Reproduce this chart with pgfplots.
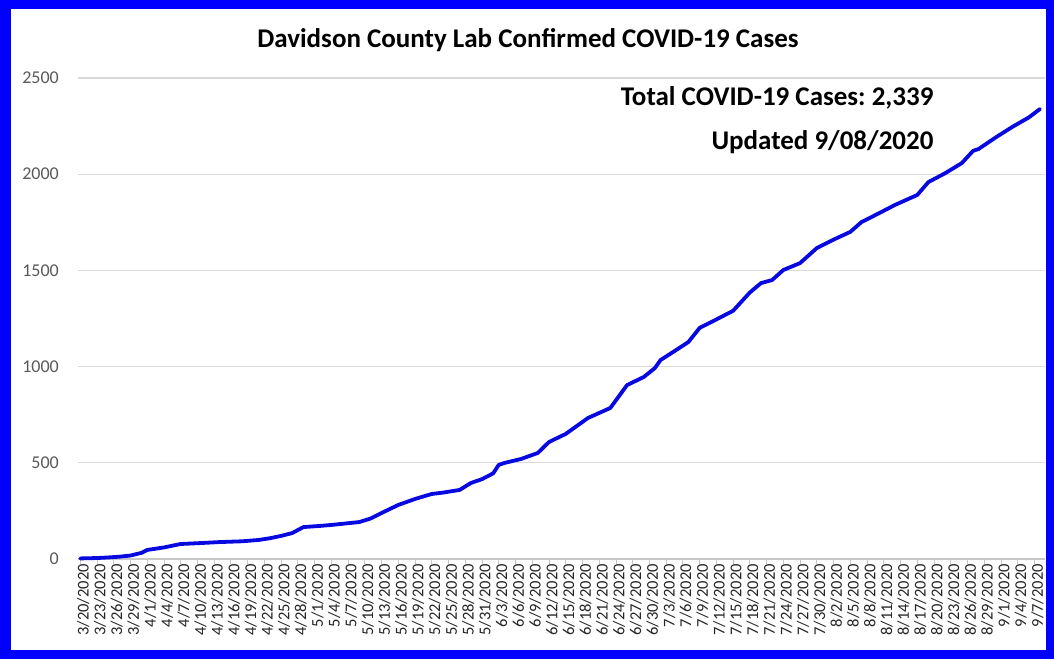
\documentclass[border=0pt]{standalone}
\usepackage{pgfplots}
\pgfplotsset{compat=1.18}
\usepackage{pgfplotstable}
\usepackage{fontspec}
\setmainfont{Carlito}
\frenchspacing
\definecolor{lineblue}{RGB}{8,8,225}
\definecolor{gridgray}{RGB}{217,217,217}
\definecolor{ticktext}{RGB}{89,89,89}
\pgfplotstableread{
day value
0 3
3 5
5 8
7 12
9 18
11 32
12 47
15 60
18 78
21 82
25 88
29 92
32 99
34 108
36 120
38 135
40 166
43 172
45 177
48 186
50 192
52 210
54 239
57 281
60 312
63 338
65 345
68 359
70 395
72 415
74 445
75 489
76 499
79 520
82 551
84 608
87 650
91 733
95 785
98 904
101 946
103 993
104 1034
107 1090
109 1128
111 1201
114 1245
117 1290
120 1385
122 1434
124 1450
126 1502
129 1538
132 1616
135 1660
138 1700
140 1751
143 1795
146 1840
150 1892
152 1959
155 2005
158 2058
160 2121
161 2131
164 2190
167 2245
170 2295
172 2339
}\cases
\begin{document}
\begin{tikzpicture}[x=1pt,y=1pt]
\fill[blue] (0,0) rectangle (1054,659);
\fill[white] (11,9) rectangle (1046,650);
\begin{axis}[
  at={(78pt,100pt)}, anchor=south west,
  width=967pt, height=481pt, scale only axis,
  xmin=-0.4, xmax=172.9, ymin=0, ymax=2500,
  axis x line=bottom, axis y line=left,
  x axis line style={-, gridgray!80!gray, line width=1.2pt},
  y axis line style={draw=none},
  ytick={0,500,1000,1500,2000,2500},
  ytick style={draw=none},
  ymajorgrids, grid style={gridgray, line width=1.2pt},
  tick align=outside, major tick length=5pt,
  xtick={0,3,...,171},
  xtick style={gridgray!80!gray, line width=0.8pt},
  xticklabels={3/20/2020,3/23/2020,3/26/2020,3/29/2020,4/1/2020,4/4/2020,4/7/2020,4/10/2020,4/13/2020,4/16/2020,4/19/2020,4/22/2020,4/25/2020,4/28/2020,5/1/2020,5/4/2020,5/7/2020,5/10/2020,5/13/2020,5/16/2020,5/19/2020,5/22/2020,5/25/2020,5/28/2020,5/31/2020,6/3/2020,6/6/2020,6/9/2020,6/12/2020,6/15/2020,6/18/2020,6/21/2020,6/24/2020,6/27/2020,6/30/2020,7/3/2020,7/6/2020,7/9/2020,7/12/2020,7/15/2020,7/18/2020,7/21/2020,7/24/2020,7/27/2020,7/30/2020,8/2/2020,8/5/2020,8/8/2020,8/11/2020,8/14/2020,8/17/2020,8/20/2020,8/23/2020,8/26/2020,8/29/2020,9/1/2020,9/4/2020,9/7/2020},
  xticklabel style={rotate=90, anchor=east, inner sep=0pt, yshift=-3pt, font=\fontsize{16.5}{16.5}\selectfont, text=black!85},
  yticklabel style={anchor=east, inner sep=0pt, xshift=-14pt, font=\fontsize{18}{18}\selectfont, text=ticktext},
  /pgf/number format/assume math mode=true,
  /pgf/number format/1000 sep={},
  clip=false,
]
\addplot[lineblue, line width=3.8pt, line join=round, line cap=round] table[x=day, y=value] {\cases};
\end{axis}
\node[font=\bfseries\fontsize{27}{27}\selectfont] at (528,619) {Davidson County Lab Confirmed COVID-19 Cases};
\node[font=\bfseries\fontsize{27}{27}\selectfont, anchor=east] at (937,561) {Total COVID-19 Cases: 2,339};
\node[font=\bfseries\fontsize{27}{27}\selectfont, anchor=east] at (937,517) {Updated 9/08/2020};
\end{tikzpicture}
\end{document}
